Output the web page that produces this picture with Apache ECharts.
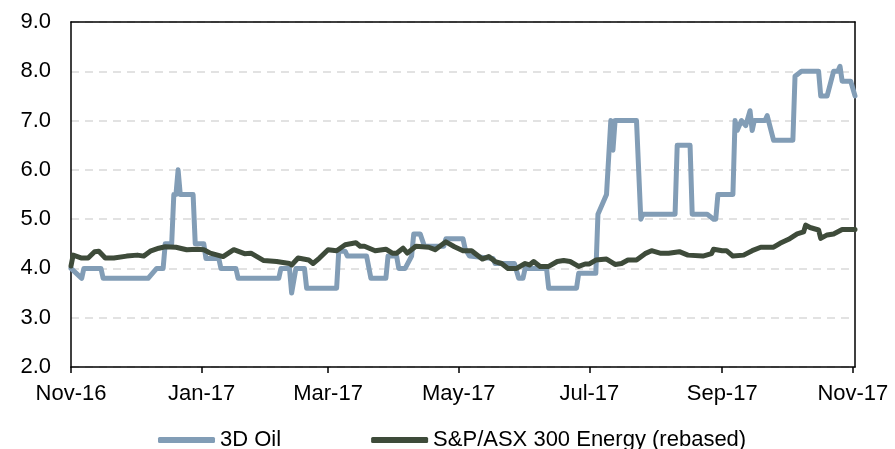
<!DOCTYPE html>
<html>
<head>
<meta charset="utf-8">
<script src="https://cdn.jsdelivr.net/npm/echarts@6/dist/echarts.min.js"></script>
<style>
html,body{margin:0;padding:0;background:#fff;}
#c{width:895px;height:449px;}
</style>
</head>
<body>
<div id="c"></div>
<script>
// ---- data ----
const seriesNames = ['3D Oil', 'S&P/ASX 300 Energy (rebased)'];

const oilDates = ['2016-11-01','2016-11-06','2016-11-07','2016-11-15','2016-11-16','2016-12-07','2016-12-11','2016-12-14','2016-12-15','2016-12-18','2016-12-19','2016-12-20','2016-12-21','2016-12-22','2016-12-28','2016-12-29','2017-01-02','2017-01-03','2017-01-09','2017-01-10','2017-01-17','2017-01-18','2017-02-06','2017-02-07','2017-02-11','2017-02-12','2017-02-14','2017-02-18','2017-02-19','2017-03-05','2017-03-06','2017-03-09','2017-03-10','2017-03-19','2017-03-21','2017-03-28','2017-03-29','2017-04-02','2017-04-03','2017-04-06','2017-04-09','2017-04-10','2017-04-13','2017-04-15','2017-04-24','2017-04-25','2017-05-03','2017-05-04','2017-05-06','2017-05-17','2017-05-18','2017-05-27','2017-05-29','2017-05-31','2017-06-01','2017-06-11','2017-06-12','2017-06-25','2017-06-26','2017-07-04','2017-07-05','2017-07-09','2017-07-11','2017-07-12','2017-07-13','2017-07-23','2017-07-25','2017-07-26','2017-08-10','2017-08-11','2017-08-17','2017-08-18','2017-08-25','2017-08-28','2017-08-29','2017-08-30','2017-09-06','2017-09-07','2017-09-08','2017-09-10','2017-09-12','2017-09-14','2017-09-15','2017-09-16','2017-09-21','2017-09-22','2017-09-25','2017-10-04','2017-10-05','2017-10-08','2017-10-16','2017-10-17','2017-10-20','2017-10-23','2017-10-25','2017-10-26','2017-10-27','2017-10-31','2017-11-02'];
const oilValues = [4.0,3.8,4.0,4.0,3.8,3.8,4.0,4.0,4.5,4.5,5.5,5.5,6.0,5.5,5.5,4.5,4.5,4.2,4.2,4.0,4.0,3.8,3.8,4.0,4.0,3.5,4.0,4.0,3.6,3.6,4.35,4.35,4.25,4.25,3.8,3.8,4.25,4.25,4.0,4.0,4.25,4.7,4.7,4.45,4.45,4.6,4.6,4.4,4.25,4.2,4.1,4.1,3.8,3.8,4.0,4.0,3.6,3.6,3.9,3.9,5.1,5.5,7.0,6.4,7.0,7.0,5.0,5.1,5.1,6.5,6.5,5.1,5.1,5.0,5.0,5.5,5.5,7.0,6.8,7.0,6.9,7.2,6.8,7.0,7.0,7.1,6.6,6.6,7.9,8.0,8.0,7.5,7.5,8.0,8.0,8.1,7.8,7.8,7.5];

const asxDates = ['2016-11-01','2016-11-02','2016-11-06','2016-11-09','2016-11-12','2016-11-14','2016-11-17','2016-11-21','2016-11-27','2016-12-02','2016-12-05','2016-12-08','2016-12-12','2016-12-15','2016-12-20','2016-12-25','2016-12-30','2017-01-02','2017-01-05','2017-01-11','2017-01-16','2017-01-21','2017-01-24','2017-01-30','2017-02-05','2017-02-11','2017-02-12','2017-02-15','2017-02-20','2017-02-22','2017-02-25','2017-03-01','2017-03-05','2017-03-09','2017-03-14','2017-03-16','2017-03-18','2017-03-23','2017-03-28','2017-03-31','2017-04-02','2017-04-05','2017-04-07','2017-04-11','2017-04-17','2017-04-20','2017-04-25','2017-04-29','2017-05-03','2017-05-07','2017-05-12','2017-05-15','2017-05-18','2017-05-21','2017-05-24','2017-05-28','2017-06-01','2017-06-03','2017-06-05','2017-06-08','2017-06-12','2017-06-16','2017-06-19','2017-06-22','2017-06-26','2017-06-29','2017-07-01','2017-07-04','2017-07-09','2017-07-13','2017-07-16','2017-07-19','2017-07-23','2017-07-27','2017-07-30','2017-08-03','2017-08-07','2017-08-12','2017-08-16','2017-08-23','2017-08-27','2017-08-28','2017-09-01','2017-09-03','2017-09-06','2017-09-11','2017-09-15','2017-09-19','2017-09-25','2017-09-28','2017-10-02','2017-10-06','2017-10-09','2017-10-10','2017-10-12','2017-10-16','2017-10-17','2017-10-20','2017-10-23','2017-10-27','2017-10-30','2017-11-02'];
const asxValues = [4.05,4.27,4.21,4.21,4.34,4.35,4.21,4.21,4.25,4.27,4.25,4.35,4.41,4.44,4.43,4.38,4.39,4.38,4.31,4.24,4.38,4.3,4.31,4.16,4.14,4.1,4.07,4.21,4.17,4.1,4.21,4.38,4.36,4.48,4.52,4.45,4.45,4.36,4.39,4.31,4.31,4.41,4.31,4.45,4.43,4.38,4.54,4.44,4.36,4.36,4.19,4.24,4.14,4.1,4.0,4.0,4.1,4.07,4.14,4.04,4.04,4.14,4.16,4.14,4.04,4.09,4.09,4.17,4.19,4.08,4.1,4.17,4.17,4.3,4.36,4.31,4.31,4.34,4.27,4.25,4.3,4.39,4.36,4.36,4.25,4.27,4.36,4.43,4.43,4.51,4.59,4.7,4.74,4.88,4.83,4.78,4.61,4.68,4.7,4.79,4.79,4.79];

const xTickDates = ['2016-11-01','2017-01-01','2017-03-01','2017-05-01','2017-07-01','2017-09-01','2017-11-01'];
const xTickLabels = ['Nov-16','Jan-17','Mar-17','May-17','Jul-17','Sep-17','Nov-17'];
const xMin = '2016-11-01';
const xMax = '2017-11-02';
const yMin = 2, yMax = 9, yStep = 1;

// ---- helpers ----
function ts(s){ const p = s.split('-').map(Number); return Date.UTC(p[0], p[1]-1, p[2]); }
function pairs(ds, vs){ return ds.map((d,i)=>[ts(d), vs[i]]); }
const tickTs = xTickDates.map(ts);

const FONT = '"Liberation Sans", Arial, sans-serif';
const FS = 22;
const frameLine = {show: true, onZero: false, lineStyle: {color: '#000', width: 1.5}};
const chart = echarts.init(document.getElementById('c'), null, {renderer:'canvas'});
chart.setOption({
  animation: false,
  backgroundColor: '#fff',
  grid: {left: 71, right: 40, top: 22, bottom: 82},
  legend: {
    data: seriesNames,
    left: 153, top: 424,
    icon: 'roundRect',
    itemWidth: 57, itemHeight: 6, itemGap: 90,
    textStyle: {fontFamily: FONT, fontSize: FS, color: '#000'}
  },
  xAxis: [{
    type: 'value',
    min: ts(xMin), max: ts(xMax),
    axisLine: frameLine,
    axisTick: {show: true, inside: false, length: 6, customValues: tickTs, lineStyle: {color: '#000', width: 1.5}},
    axisLabel: {
      customValues: tickTs, margin: 16, color: '#000', fontFamily: FONT, fontSize: FS,
      formatter: function(v){ const i = tickTs.indexOf(v); return i >= 0 ? xTickLabels[i] : ''; }
    },
    splitLine: {show: false}, z: 5
  }, {
    type: 'value', position: 'top',
    min: ts(xMin), max: ts(xMax),
    axisLine: frameLine, axisTick: {show: false}, axisLabel: {show: false}, splitLine: {show: false}, z: 5
  }],
  yAxis: [{
    type: 'value', min: yMin, max: yMax, interval: yStep,
    axisLine: frameLine,
    axisTick: {show: false},
    axisLabel: {margin: 20, color: '#000', fontFamily: FONT, fontSize: FS, formatter: v => v.toFixed(1)},
    splitLine: {show: true, lineStyle: {color: '#d9d9d9', width: 1.5, type: [8, 6]}}
  }, {
    type: 'value', position: 'right', min: yMin, max: yMax, interval: yStep,
    axisLine: frameLine, axisTick: {show: false}, axisLabel: {show: false}, splitLine: {show: false}
  }],
  series: [
    {name: seriesNames[0], type: 'line', data: pairs(oilDates, oilValues), showSymbol: false, symbol: 'none',
     lineStyle: {color: '#829db6', width: 5, join: 'round', cap: 'round'}, itemStyle: {color: '#829db6'}, z: 2},
    {name: seriesNames[1], type: 'line', data: pairs(asxDates, asxValues), showSymbol: false, symbol: 'none',
     lineStyle: {color: '#3e4b3a', width: 5, join: 'round', cap: 'round'}, itemStyle: {color: '#3e4b3a'}, z: 3}
  ]
});
</script>
</body>
</html>
